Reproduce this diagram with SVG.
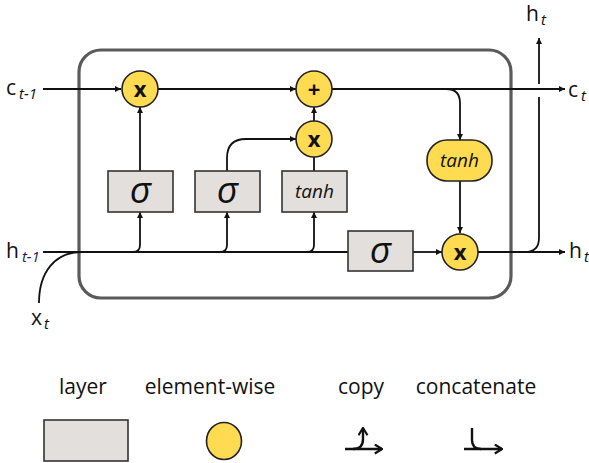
<svg xmlns="http://www.w3.org/2000/svg" width="589" height="463" viewBox="0 0 589 463">
<style>
text{font-family:"Open Sans","Noto Sans","DejaVu Sans",sans-serif;fill:#111}
.ln{fill:none;stroke:#111;stroke-width:1.8}
.lg{fill:none;stroke:#111;stroke-width:2.4}
.box{fill:#e3dfdc;stroke:#333;stroke-width:1.6}
.op{fill:#ffdb52;stroke:#222;stroke-width:1.6}
.lab{font-size:21px}
.sub{font-size:15px;font-style:italic}
.sig{font-size:37px;font-style:italic;text-anchor:middle}
.tanh{font-size:19px;font-style:italic;text-anchor:middle}
.opt{font-size:22px;font-weight:bold;text-anchor:middle}
.leg{font-size:21px;text-anchor:middle}
</style>
<defs>
<marker id="ah" viewBox="0 0 10 10" refX="10" refY="5" markerUnits="userSpaceOnUse" markerWidth="8" markerHeight="6" orient="auto">
<path d="M0,0 L10,5 L0,10 z" fill="#111"/>
</marker>
<marker id="ch" viewBox="0 0 10 12" refX="9" refY="6" markerUnits="userSpaceOnUse" markerWidth="9" markerHeight="11" orient="auto">
<path d="M1,1 L9,6 L1,11" fill="none" stroke="#111" stroke-width="2.4"/>
</marker>
<filter id="bl" x="-5%" y="-5%" width="110%" height="110%"><feGaussianBlur stdDeviation="0.7"/></filter>
</defs>

<g id="cell">
<rect x="79" y="50" width="432" height="248" rx="22" fill="#fff" stroke="#5a5a5a" stroke-width="3.2" filter="url(#bl)"/>
</g>

<g id="connectors">
<path class="ln" d="M43,89 H121" marker-end="url(#ah)"/>
<path class="ln" d="M158,89 H296" marker-end="url(#ah)"/>
<path class="ln" d="M332,89 H565" marker-end="url(#ah)"/>
<path class="ln" d="M446,89 Q460,89 460,103 V140" marker-end="url(#ah)"/>
<path class="ln" d="M460,181 V233" marker-end="url(#ah)"/>
<path class="ln" d="M43,252 H348"/>
<path class="ln" d="M39,303 C39,272 55,252 82,252"/>
<path class="ln" d="M128,252 H133 Q140,252 140,245 V212" marker-end="url(#ah)"/>
<path class="ln" d="M215,252 H220 Q227,252 227,245 V212" marker-end="url(#ah)"/>
<path class="ln" d="M302,252 H307 Q314,252 314,245 V212" marker-end="url(#ah)"/>
<path class="ln" d="M140,171 V107" marker-end="url(#ah)"/>
<path class="ln" d="M227,171 V158 Q227,139 246,139 H296" marker-end="url(#ah)"/>
<path class="ln" d="M314,171 V157"/>
<path class="ln" d="M314,121 V107" marker-end="url(#ah)"/>
<path class="ln" d="M413,252 H442" marker-end="url(#ah)"/>
<path class="ln" d="M478,252 H565" marker-end="url(#ah)"/>
<path class="ln" d="M525,252 Q539,252 539,238 V97"/>
<path class="ln" d="M539,84 V38" marker-end="url(#ah)"/>
</g>

<g id="forget_gate"><rect class="box" x="108" y="171" width="65" height="41"/><text class="sig" x="140.5" y="203">σ</text></g>
<g id="input_gate"><rect class="box" x="195" y="171" width="65" height="41"/><text class="sig" x="227.5" y="203">σ</text></g>
<g id="candidate"><rect class="box" x="282" y="171" width="65" height="41"/><text class="tanh" x="314.5" y="198">tanh</text></g>
<g id="output_gate"><rect class="box" x="348" y="231" width="65" height="40"/><text class="sig" x="380.5" y="263">σ</text></g>

<g id="mul_forget"><circle class="op" cx="140" cy="89" r="18"/><text class="opt" x="140" y="97">x</text></g>
<g id="add_cell"><circle class="op" cx="314" cy="89" r="18"/><text class="opt" x="314" y="97">+</text></g>
<g id="mul_input"><circle class="op" cx="314" cy="139" r="18"/><text class="opt" x="314" y="147">x</text></g>
<g id="tanh_cell"><rect class="op" x="427" y="140" width="65" height="41" rx="20"/><text class="tanh" x="459.5" y="167">tanh</text></g>
<g id="mul_output"><circle class="op" cx="460" cy="252" r="18"/><text class="opt" x="460" y="260">x</text></g>

<g id="labels">
<text class="lab" x="6" y="95">c<tspan class="sub" dx="3" dy="4">t-1</tspan></text>
<text class="lab" x="6" y="258">h<tspan class="sub" dx="3" dy="4" style="fill:#1c1c66">t-1</tspan></text>
<text class="lab" x="31" y="325">x<tspan class="sub" dx="2" dy="4">t</tspan></text>
<text class="lab" x="526" y="21">h<tspan class="sub" dx="2" dy="4">t</tspan></text>
<text class="lab" x="568" y="97">c<tspan class="sub" dx="3" dy="4">t</tspan></text>
<text class="lab" x="569" y="258">h<tspan class="sub" dx="2" dy="4">t</tspan></text>
</g>

<g id="legend">
<text class="leg" x="83" y="394">layer</text>
<text class="leg" x="210" y="394">element-wise</text>
<text class="leg" x="361" y="394">copy</text>
<text class="leg" x="476" y="394">concatenate</text>
<rect class="box" x="44" y="420" width="84" height="41"/>
<ellipse class="op" cx="224" cy="441" rx="17.5" ry="18.5"/>
<path class="lg" d="M345,449 H382" marker-end="url(#ch)"/>
<path class="lg" d="M353,449 Q363,449 363,439 V428" marker-end="url(#ch)"/>
<path class="lg" d="M464,449 H502" marker-end="url(#ch)"/>
<path class="lg" d="M472,428 V440 Q472,449 481,449"/>
</g>
</svg>
